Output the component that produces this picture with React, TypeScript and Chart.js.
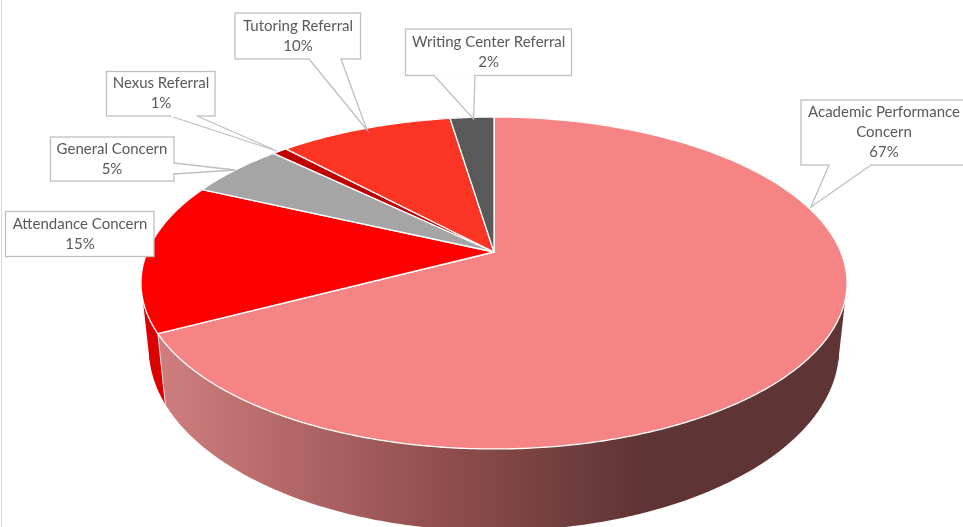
import React, { useEffect, useRef } from "react";
import { Chart, registerables } from "chart.js";

Chart.register(...registerables);

const categories = [
  "Academic Performance Concern",
  "Attendance Concern",
  "General Concern",
  "Nexus Referral",
  "Tutoring Referral",
  "Writing Center Referral",
];
const shares = [67.3, 14.6, 5.35, 0.8, 9.55, 2.4];
const topColors = ["#f68484", "#ff0000", "#a5a5a5", "#c00000", "#fb3423", "#595959"];
const wallColors = ["gradient", "#dc0000", "#8a8a8a", "#a00000", "#d22a1c", "#444444"];

// Perspective of the top and bottom faces of the disc.
const K = -0.1867;
const TOP_FACE = { cx: 494, cy: 252, a: 346.8, b: 160.2 };
const BOTTOM_FACE = { cx: 494, cy: 315, a: 339, b: 175.6 };
// Where the disc's outline leaves the top face and meets the bottom face.
const SILHOUETTE_TOP = 0.2876;
const SILHOUETTE_BOTTOM = 0.2525;

type Callout = {
  box: [number, number, number, number];
  textX: number;
  textY: number;
  pointer?: [number, number, number, number, number, number];
};

// Geometry of the callouts, in the same order as the categories.
const calloutLayout: Callout[] = [
  { box: [801, 100, 175, 65], textX: 884, textY: 112, pointer: [829, 165, 811, 207, 871, 165] },
  { box: [5.5, 211.5, 148.5, 45], textX: 80, textY: 224 },
  { box: [50.5, 137, 123.5, 44], textX: 112, textY: 149, pointer: [174, 163, 235, 170, 174, 174] },
  { box: [106.5, 71.5, 108.5, 44.5], textX: 161, textY: 83, pointer: [170, 116, 277, 151, 197, 116] },
  { box: [235, 13, 125.5, 46], textX: 298, textY: 26, pointer: [309, 59, 367, 130, 341, 59] },
  { box: [405.5, 29, 166, 46.5], textX: 488.7, textY: 42, pointer: [434, 75.5, 473.5, 119, 475, 75.5] },
];
const labelLines = [
  ["Academic Performance", "Concern"],
  ["Attendance Concern"],
  ["General Concern"],
  ["Nexus Referral"],
  ["Tutoring Referral"],
  ["Writing Center Referral"],
];

function project(face: typeof TOP_FACE, angle: number): [number, number] {
  const u = Math.cos(angle);
  const v = Math.sin(angle);
  const w = 1 + K * v;
  return [face.cx + (face.a * u) / w, face.cy + (face.b * v) / w];
}

function rim(ctx: CanvasRenderingContext2D, face: typeof TOP_FACE, from: number, to: number) {
  const steps = Math.max(2, Math.ceil(Math.abs(to - from) / 0.01));
  for (let i = 0; i <= steps; i++) {
    const [x, y] = project(face, from + ((to - from) * i) / steps);
    ctx.lineTo(x, y);
  }
}

const disc3d = {
  id: "disc3d",
  beforeDatasetsDraw(chart: any) {
    const ctx: CanvasRenderingContext2D = chart.ctx;
    const arcs = chart.getDatasetMeta(0).data;
    ctx.save();

    // faint sheet edge at the far left of the picture
    ctx.strokeStyle = "#d9d9d9";
    ctx.lineWidth = 1;
    ctx.beginPath();
    ctx.moveTo(1.5, 0);
    ctx.lineTo(1.5, 527);
    ctx.stroke();

    const grad = ctx.createLinearGradient(160, 0, 660, 0);
    grad.addColorStop(0, "#cf7e7e");
    grad.addColorStop(0.53, "#945050");
    grad.addColorStop(0.96, "#603434");
    grad.addColorStop(1, "#5f3434");

    // side walls
    arcs.forEach((arc: any, i: number) => {
      const { startAngle, endAngle } = arc.getProps(["startAngle", "endAngle"], true);
      ctx.beginPath();
      rim(ctx, TOP_FACE, startAngle, endAngle);
      rim(ctx, BOTTOM_FACE, endAngle, startAngle);
      ctx.closePath();
      ctx.fillStyle = wallColors[i] === "gradient" ? grad : wallColors[i];
      ctx.fill();
    });

    // outline of the disc between the two faces, right and left
    const rightTop = project(TOP_FACE, SILHOUETTE_TOP);
    const rightBottom = project(BOTTOM_FACE, SILHOUETTE_BOTTOM);
    ctx.beginPath();
    ctx.moveTo(rightTop[0], rightTop[1]);
    ctx.lineTo(rightBottom[0], rightBottom[1]);
    ctx.lineTo(rightBottom[0] - 60, rightBottom[1] + 10);
    ctx.lineTo(rightTop[0] - 60, rightTop[1]);
    ctx.closePath();
    ctx.fillStyle = "#5f3434";
    ctx.fill();

    const leftTop = project(TOP_FACE, Math.PI - SILHOUETTE_TOP);
    const leftBottom = project(BOTTOM_FACE, Math.PI - SILHOUETTE_BOTTOM);
    const split = arcs[0].getProps(["endAngle"], true).endAngle;
    const splitTop = project(TOP_FACE, split);
    ctx.beginPath();
    ctx.moveTo(leftTop[0], leftTop[1]);
    ctx.lineTo(leftBottom[0], leftBottom[1]);
    ctx.lineTo(splitTop[0] + 1, splitTop[1]);
    ctx.closePath();
    ctx.fillStyle = wallColors[1];
    ctx.fill();

    // pale edge between the two visible walls
    const [ex1, ey1] = splitTop;
    const [ex2, ey2] = project(BOTTOM_FACE, split);
    ctx.strokeStyle = "rgba(255,255,255,0.75)";
    ctx.lineWidth = 1;
    ctx.beginPath();
    ctx.moveTo(ex1, ey1);
    ctx.lineTo(ex2, ey2);
    ctx.stroke();

    // top face
    arcs.forEach((arc: any, i: number) => {
      const { startAngle, endAngle } = arc.getProps(["startAngle", "endAngle"], true);
      ctx.beginPath();
      ctx.moveTo(TOP_FACE.cx, TOP_FACE.cy);
      rim(ctx, TOP_FACE, startAngle, endAngle);
      ctx.closePath();
      ctx.fillStyle = topColors[i];
      ctx.fill();
      ctx.strokeStyle = "#ffffff";
      ctx.lineWidth = 1.3;
      ctx.lineJoin = "round";
      ctx.stroke();
    });
    ctx.restore();

    // callouts
    const total = shares.reduce((a, b) => a + b, 0);
    ctx.save();
    ctx.font = "15px Lato";
    ctx.textAlign = "center";
    ctx.textBaseline = "middle";
    categories.forEach((_, i) => {
      const c = calloutLayout[i];
      const [x, y, w, h] = c.box;
      ctx.fillStyle = "#ffffff";
      ctx.fillRect(x, y, w, h);
      ctx.strokeStyle = "#bfbfbf";
      ctx.lineWidth = 1.3;
      ctx.strokeRect(x, y, w, h);
      if (c.pointer) {
        const [x1, y1, x2, y2, x3, y3] = c.pointer;
        ctx.beginPath();
        ctx.moveTo(x1, y1);
        ctx.lineTo(x2, y2);
        ctx.lineTo(x3, y3);
        ctx.fillStyle = "#ffffff";
        ctx.fill();
        ctx.stroke();
        if (y1 === y3) {
          ctx.fillRect(x1 + 1, y1 - 1, x3 - x1 - 2, 2);
        } else {
          ctx.fillRect(x1 - 1, y1 + 1, 2, y3 - y1 - 2);
        }
      }
      ctx.fillStyle = "#595959";
      const lines = [...labelLines[i], `${Math.round((shares[i] / total) * 100)}%`];
      lines.forEach((line, n) => ctx.fillText(line, c.textX, c.textY + n * 20));
    });
    ctx.restore();
    return false;
  },
};

export default function App() {
  const ref = useRef<HTMLCanvasElement>(null);
  useEffect(() => {
    document.body.style.margin = "0";
    document.body.style.background = "#ffffff";
    const chart = new Chart(ref.current!, {
      type: "pie",
      data: {
        labels: categories,
        datasets: [{ data: shares, backgroundColor: topColors, borderColor: "#ffffff" }],
      },
      options: {
        responsive: false,
        animation: false,
        plugins: { legend: { display: false }, tooltip: { enabled: false } },
      },
      plugins: [disc3d],
    } as any);
    return () => chart.destroy();
  }, []);
  return (
    <div style={{ width: 963, height: 527, overflow: "hidden" }}>
      <canvas ref={ref} width={963} height={527} style={{ display: "block" }} />
    </div>
  );
}
